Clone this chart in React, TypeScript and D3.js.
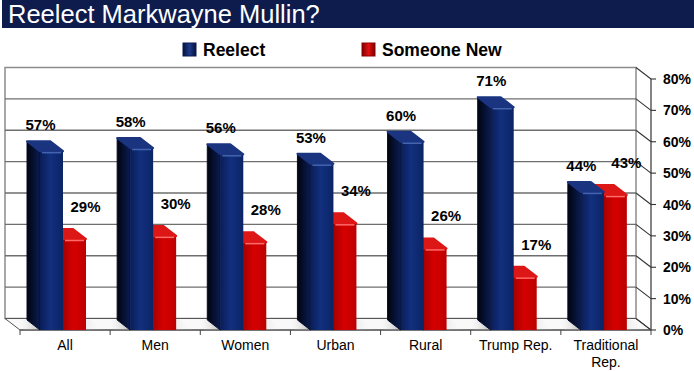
import * as d3 from 'd3';
import React from 'react';

const categories = ['All', 'Men', 'Women', 'Urban', 'Rural', 'Trump Rep.', 'Traditional Rep.'];
const seriesNames = ['Reelect', 'Someone New'];
const reelect = [57, 58, 56, 53, 60, 71, 44];
const someoneNew = [29, 30, 28, 34, 26, 17, 43];
const yTicks = [0, 10, 20, 30, 40, 50, 60, 70, 80];

const W = 694;
const H = 371;
const FONT = '"Liberation Sans", Arial, sans-serif';

// 3d box: front plane and how far back the back wall sits
const boxDx = 15;
const boxDy = 11.5;
// depth of each bar
const barDx = 13;
const barDy = 10;

const x = d3.scaleBand().domain(categories).range([20, 651]).padding(0);
const inner = d3.scaleBand().domain(seriesNames).range([20, 66]).padding(0);
const y = d3.scaleLinear().domain([0, 80]).range([330, 79]);
const yBack = (v: number) => y(v) - boxDy;

const palette: Record<string, { front: string; side: string; edge: string; top: string; hi: string }> = {
  Reelect: { front: 'url(#blueFront)', side: 'url(#blueSide)', edge: '#040c2c', top: '#1a3480', hi: '#4464b0' },
  'Someone New': { front: 'url(#redFront)', side: 'url(#redSide)', edge: '#6a0000', top: '#dd1616', hi: '#ff6a6a' },
};

const pts = (p: number[][]) => p.map((d) => d.join(',')).join(' ');

const Bar = ({ cat, series, value }: { cat: string; series: string; value: number }) => {
  const x0 = (x(cat) as number) + (inner(series) as number);
  const w = inner.bandwidth();
  const top = y(value);
  const bot = y(0);
  const c = palette[series];
  return (
    <g strokeLinejoin="round">
      <polygon
        points={pts([[x0, top], [x0, bot], [x0 - barDx, bot - barDy], [x0 - barDx, top - barDy]])}
        fill={c.side}
        stroke={c.edge}
        strokeWidth={1}
      />
      <rect x={x0} y={top} width={w} height={bot - top} fill={c.front} />
      <polygon
        points={pts([[x0, top], [x0 + w, top], [x0 + w - barDx, top - barDy], [x0 - barDx, top - barDy]])}
        fill={c.top}
        stroke={c.top}
        strokeWidth={2}
      />
      <line x1={x0 + 2} x2={x0 + w - 2} y1={top + 1.5} y2={top + 1.5} stroke={c.hi} strokeWidth={1.5} />
    </g>
  );
};

const wrap = (s: string) => (s.length > 12 ? s.split(' ') : [s]);

export default function App() {
  const y0 = y(0);
  return (
    <svg width={W} height={H} style={{ position: 'absolute', left: 0, top: 0, background: '#fff' }} fontFamily={FONT}>
      <defs>
        <linearGradient id="blueFront" x1="0" x2="1" y1="0" y2="0">
          <stop offset="0%" stopColor="#0a1d57" />
          <stop offset="45%" stopColor="#12307e" />
          <stop offset="100%" stopColor="#0b2465" />
        </linearGradient>
        <linearGradient id="blueSide" x1="0" x2="1" y1="0" y2="0">
          <stop offset="0%" stopColor="#01040f" />
          <stop offset="100%" stopColor="#0a1c52" />
        </linearGradient>
        <linearGradient id="redFront" x1="0" x2="1" y1="0" y2="0">
          <stop offset="0%" stopColor="#a60000" />
          <stop offset="45%" stopColor="#d60000" />
          <stop offset="100%" stopColor="#bd0000" />
        </linearGradient>
        <linearGradient id="redSide" x1="0" x2="1" y1="0" y2="0">
          <stop offset="0%" stopColor="#4a0000" />
          <stop offset="100%" stopColor="#a00000" />
        </linearGradient>
        <linearGradient id="shadow" x1="1" x2="0" y1="0" y2="0">
          <stop offset="0%" stopColor="#b8b8b8" />
          <stop offset="100%" stopColor="#ffffff" stopOpacity={0} />
        </linearGradient>
        <linearGradient id="shadowR" x1="0" x2="1" y1="0" y2="0">
          <stop offset="0%" stopColor="#d4d4d4" />
          <stop offset="100%" stopColor="#ffffff" stopOpacity={0} />
        </linearGradient>
        <linearGradient id="legBlue" x1="0" x2="1" y1="0" y2="0">
          <stop offset="0%" stopColor="#06123a" />
          <stop offset="50%" stopColor="#1d3a8c" />
          <stop offset="100%" stopColor="#06123a" />
        </linearGradient>
        <linearGradient id="legRed" x1="0" x2="1" y1="0" y2="0">
          <stop offset="0%" stopColor="#7a0000" />
          <stop offset="50%" stopColor="#e21010" />
          <stop offset="100%" stopColor="#7a0000" />
        </linearGradient>
      </defs>

      {/* title */}
      <rect x={2} y={0} width={W - 2} height={28} fill="#0e1b4d" />
      <text x={8} y={23} fill="#fff" fontSize={25.5}>
        Reelect Markwayne Mullin?
      </text>

      {/* legend */}
      {seriesNames.map((s, i) => {
        const lx = i === 0 ? 183 : 362;
        return (
          <g key={s}>
            <rect x={lx} y={43} width={13} height={13} fill={i === 0 ? 'url(#legBlue)' : 'url(#legRed)'} stroke={i === 0 ? '#0a1a50' : '#900000'} />
            <text x={lx + 20} y={55.5} fontSize={17.5} fontWeight="bold">
              {s}
            </text>
          </g>
        );
      })}

      {/* back wall */}
      <rect x={20 - boxDx} y={yBack(80)} width={651 - 20} height={yBack(0) - yBack(80)} fill="#fff" stroke="#8c8c8c" strokeWidth={1.5} />
      {yTicks.slice(1, -1).map((t) => (
        <line key={t} x1={20 - boxDx} x2={651 - boxDx} y1={yBack(t)} y2={yBack(t)} stroke="#6e6e6e" strokeWidth={1.3} />
      ))}

      {/* floor */}
      <polygon
        points={pts([[20 - boxDx, yBack(0)], [651 - boxDx, yBack(0)], [651, y0], [20, y0]])}
        fill="#f9f9f9"
        stroke="#555"
        strokeWidth={1}
      />
      {categories.map((cat) => {
        const bx = (x(cat) as number) + (inner('Reelect') as number);
        const rx = (x(cat) as number) + (inner('Someone New') as number) + inner.bandwidth();
        return (
          <g key={cat + 'sh'}>
            <polygon points={pts([[bx - barDx, y0 - barDy], [bx, y0], [bx - 16, y0], [bx - barDx - 10, y0 - barDy]])} fill="url(#shadow)" />
            <polygon points={pts([[rx, y0], [rx - barDx, y0 - barDy], [rx - barDx + 18, y0 - barDy], [rx + 18, y0]])} fill="url(#shadowR)" />
          </g>
        );
      })}

      {/* right axis */}
      <line x1={651} x2={651} y1={y(80)} y2={y0} stroke="#333" strokeWidth={1.2} />
      {yTicks.map((t) => (
        <g key={t}>
          <line x1={651 - boxDx} y1={yBack(t)} x2={651} y2={y(t)} stroke="#333" strokeWidth={1.1} />
          <line x1={651} x2={656} y1={y(t)} y2={y(t)} stroke="#333" strokeWidth={1.1} />
          <text x={663} y={y(t) + 5} fontSize={14} fontWeight="bold">
            {t}%
          </text>
        </g>
      ))}

      {/* category ticks and labels */}
      <line x1={20} x2={651} y1={y0} y2={y0} stroke="#444" strokeWidth={1} />
      {[...categories.map((c) => x(c) as number), 651].map((tx, i) => (
        <line key={i} x1={tx} x2={tx} y1={y0} y2={y0 + 5} stroke="#444" />
      ))}
      {categories.map((cat) => (
        <text key={cat} x={(x(cat) as number) + x.bandwidth() / 2} y={350} fontSize={14} textAnchor="middle">
          {wrap(cat).map((ln, j) => (
            <tspan key={j} x={(x(cat) as number) + x.bandwidth() / 2} dy={j === 0 ? 0 : 17}>
              {ln}
            </tspan>
          ))}
        </text>
      ))}

      {/* bars: red first so the blue one covers its side */}
      {categories.map((cat, i) => (
        <g key={cat}>
          <Bar cat={cat} series="Someone New" value={someoneNew[i]} />
          <Bar cat={cat} series="Reelect" value={reelect[i]} />
        </g>
      ))}

      {/* value labels */}
      {categories.map((cat, i) => {
        const bx = (x(cat) as number) + (inner('Reelect') as number) + inner.bandwidth() / 2;
        const rx = (x(cat) as number) + (inner('Someone New') as number) + inner.bandwidth() / 2;
        return (
          <g key={cat + 'lab'} fontSize={15} fontWeight="bold" textAnchor="middle">
            <text x={bx - 11} y={y(reelect[i]) - 21}>
              {reelect[i]}%
            </text>
            <text x={rx + 11} y={y(someoneNew[i]) - 27}>
              {someoneNew[i]}%
            </text>
          </g>
        );
      })}
    </svg>
  );
}
